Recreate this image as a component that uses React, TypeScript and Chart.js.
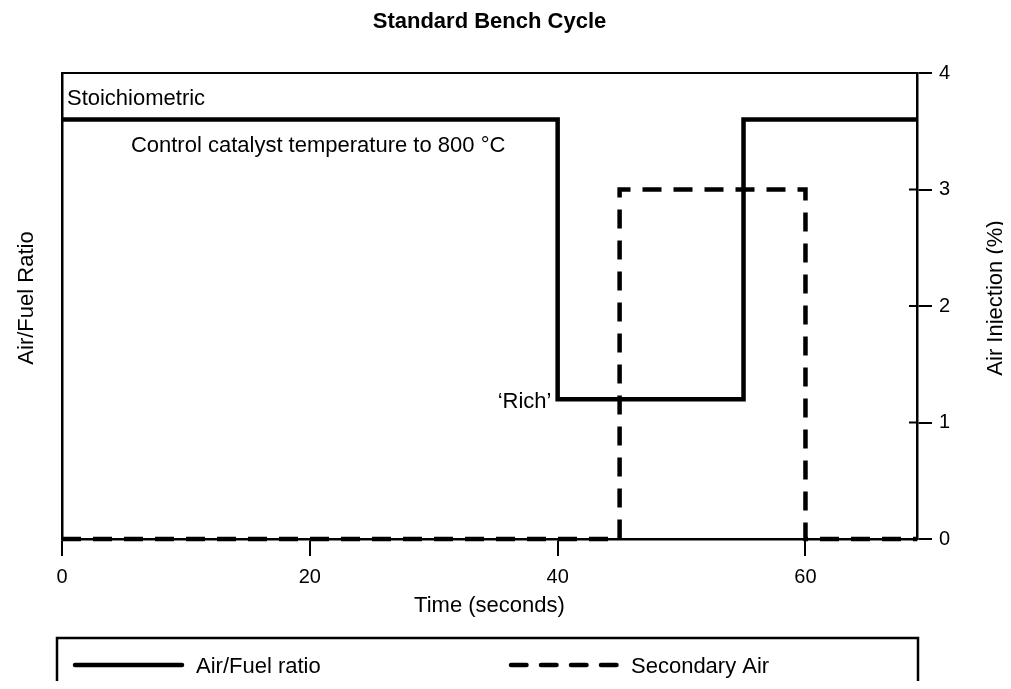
import React, { useEffect, useRef } from "react";
import { Chart, registerables } from "chart.js";

Chart.register(...registerables);

const chartTitle = "Standard Bench Cycle";
const xTitle = "Time (seconds)";
const yLeftTitle = "Air/Fuel Ratio";
const yRightTitle = "Air Injection (%)";

const afLabel = "Air/Fuel ratio";
const saLabel = "Secondary Air";

// step change points (time in s)
const afTimes = [0, 40, 55, 69];
const afValues = [3.6, 1.2, 3.6, 3.6];
const saTimes = [0, 45, 60, 69];
const saValues = [0, 3, 0, 0];

const xTicks = [0, 20, 40, 60];
const yRightTicks = [0, 1, 2, 3, 4];

const annotationTexts = ["Stoichiometric", "Control catalyst temperature to 800 °C", "‘Rich’"];
const annotationX = [0.4, 5.56, 39.5];
const annotationY = [3.725, 3.32, 1.124];
const annotationAlign = ["left", "left", "right"];

const FONT = '"Liberation Sans", Arial, Helvetica, sans-serif';
const W = 1003;
const H = 681;

const decorPlugin = {
  id: "decor",
  afterDraw(chart: any) {
    const { ctx, chartArea } = chart;
    const { left, right, top, bottom } = chartArea;
    const xs = chart.scales.x;
    const yr = chart.scales.yR;
    ctx.save();
    ctx.strokeStyle = "#000";
    ctx.fillStyle = "#000";
    ctx.lineCap = "butt";

    // top border
    ctx.lineWidth = 2;
    ctx.beginPath();
    ctx.moveTo(left, top);
    ctx.lineTo(right, top);
    ctx.stroke();

    // inner part of right axis ticks
    ctx.lineWidth = 2;
    yRightTicks.forEach((v) => {
      const y = yr.getPixelForValue(v);
      ctx.beginPath();
      ctx.moveTo(right - 8, y);
      ctx.lineTo(right, y);
      ctx.stroke();
    });

    // title
    ctx.font = `bold 22px ${FONT}`;
    ctx.textAlign = "center";
    ctx.textBaseline = "alphabetic";
    ctx.fillText(chartTitle, (left + right) / 2, 20);

    // x title
    ctx.font = `22px ${FONT}`;
    ctx.fillText(xTitle, (left + right) / 2, 604);

    // y titles
    const cy = (top + bottom) / 2 - 8;
    ctx.save();
    ctx.translate(25, cy);
    ctx.rotate(-Math.PI / 2);
    ctx.textAlign = "center";
    ctx.fillText(yLeftTitle, 0, 0);
    ctx.restore();
    ctx.save();
    ctx.translate(994, cy);
    ctx.rotate(-Math.PI / 2);
    ctx.textAlign = "center";
    ctx.fillText(yRightTitle, 0, 0);
    ctx.restore();

    // annotations
    ctx.font = `22px ${FONT}`;
    annotationTexts.forEach((t, i) => {
      ctx.textAlign = annotationAlign[i] as CanvasTextAlign;
      ctx.fillText(t, xs.getPixelForValue(annotationX[i]), yr.getPixelForValue(annotationY[i]));
    });

    // legend box (open at the bottom, runs off the page)
    const bl = left - 5;
    const br = right + 1;
    const bt = 630;
    ctx.lineWidth = 2.5;
    ctx.beginPath();
    ctx.moveTo(bl, H + 5);
    ctx.lineTo(bl, bt);
    ctx.lineTo(br, bt);
    ctx.lineTo(br, H + 5);
    ctx.stroke();

    const ly = 657;
    ctx.lineWidth = 4.5;
    ctx.lineCap = "round";
    ctx.setLineDash([]);
    ctx.beginPath();
    ctx.moveTo(67, ly);
    ctx.lineTo(174, ly);
    ctx.stroke();
    ctx.setLineDash([15.5, 14.5]);
    ctx.beginPath();
    ctx.moveTo(503, ly);
    ctx.lineTo(610, ly);
    ctx.stroke();
    ctx.setLineDash([]);
    ctx.textAlign = "left";
    ctx.fillText(chart.data.datasets[0].label, 188, 665);
    ctx.fillText(chart.data.datasets[1].label, 623, 665);

    ctx.restore();
  },
};

export default function App() {
  const ref = useRef<HTMLCanvasElement | null>(null);

  useEffect(() => {
    if (!ref.current) return;
    const chart = new Chart(ref.current, {
      type: "line",
      data: {
        datasets: [
          {
            label: afLabel,
            data: afTimes.map((t, i) => ({ x: t, y: afValues[i] })),
            yAxisID: "yL",
            borderColor: "#000",
            borderWidth: 4.5,
            stepped: "before",
            pointRadius: 0,
            fill: false,
            borderJoinStyle: "miter",
            borderCapStyle: "butt",
            clip: false,
          },
          {
            label: saLabel,
            data: saTimes.map((t, i) => ({ x: t, y: saValues[i] })),
            yAxisID: "yR",
            borderColor: "#000",
            borderWidth: 4.5,
            borderDash: [19, 12],
            stepped: "before",
            pointRadius: 0,
            fill: false,
            borderJoinStyle: "miter",
            borderCapStyle: "butt",
            clip: false,
          },
        ],
      },
      options: {
        animation: false,
        responsive: false,
        devicePixelRatio: 1,
        layout: { padding: { top: 65, left: 0, right: 0, bottom: 0 } },
        plugins: {
          legend: { display: false },
          title: { display: false },
          tooltip: { enabled: false },
        },
        scales: {
          x: {
            type: "linear",
            position: "bottom",
            min: 0,
            max: 69,
            afterBuildTicks: (s: any) => {
              s.ticks = xTicks.map((v) => ({ value: v }));
            },
            afterFit: (s: any) => {
              s.height = H - 531;
            },
            grid: {
              drawOnChartArea: false,
              drawTicks: true,
              tickLength: 17,
              color: "#000",
              lineWidth: 2,
            },
            border: { display: true, color: "#000", width: 2.5 },
            ticks: {
              color: "#000",
              font: { family: FONT, size: 20 },
              padding: 9,
              maxRotation: 0,
            },
          },
          yL: {
            type: "linear",
            position: "left",
            min: 0,
            max: 4,
            afterFit: (s: any) => {
              s.width = 54;
            },
            grid: { display: false },
            border: { display: true, color: "#000", width: 2.5 },
            ticks: { display: false },
          },
          yR: {
            type: "linear",
            position: "right",
            min: 0,
            max: 4,
            afterBuildTicks: (s: any) => {
              s.ticks = yRightTicks.map((v) => ({ value: v }));
            },
            afterFit: (s: any) => {
              s.width = W - 909;
            },
            grid: {
              drawOnChartArea: false,
              drawTicks: true,
              tickLength: 15,
              color: "#000",
              lineWidth: 2,
            },
            border: { display: true, color: "#000", width: 2.5 },
            ticks: {
              color: "#000",
              font: { family: FONT, size: 20 },
              padding: 7,
            },
          },
        },
      },
      plugins: [decorPlugin],
    } as any);
    return () => chart.destroy();
  }, []);

  return (
    <div style={{ width: 995, height: 673 }}>
      <canvas ref={ref} width={W} height={H} style={{ display: "block", width: W, height: H }} />
    </div>
  );
}
